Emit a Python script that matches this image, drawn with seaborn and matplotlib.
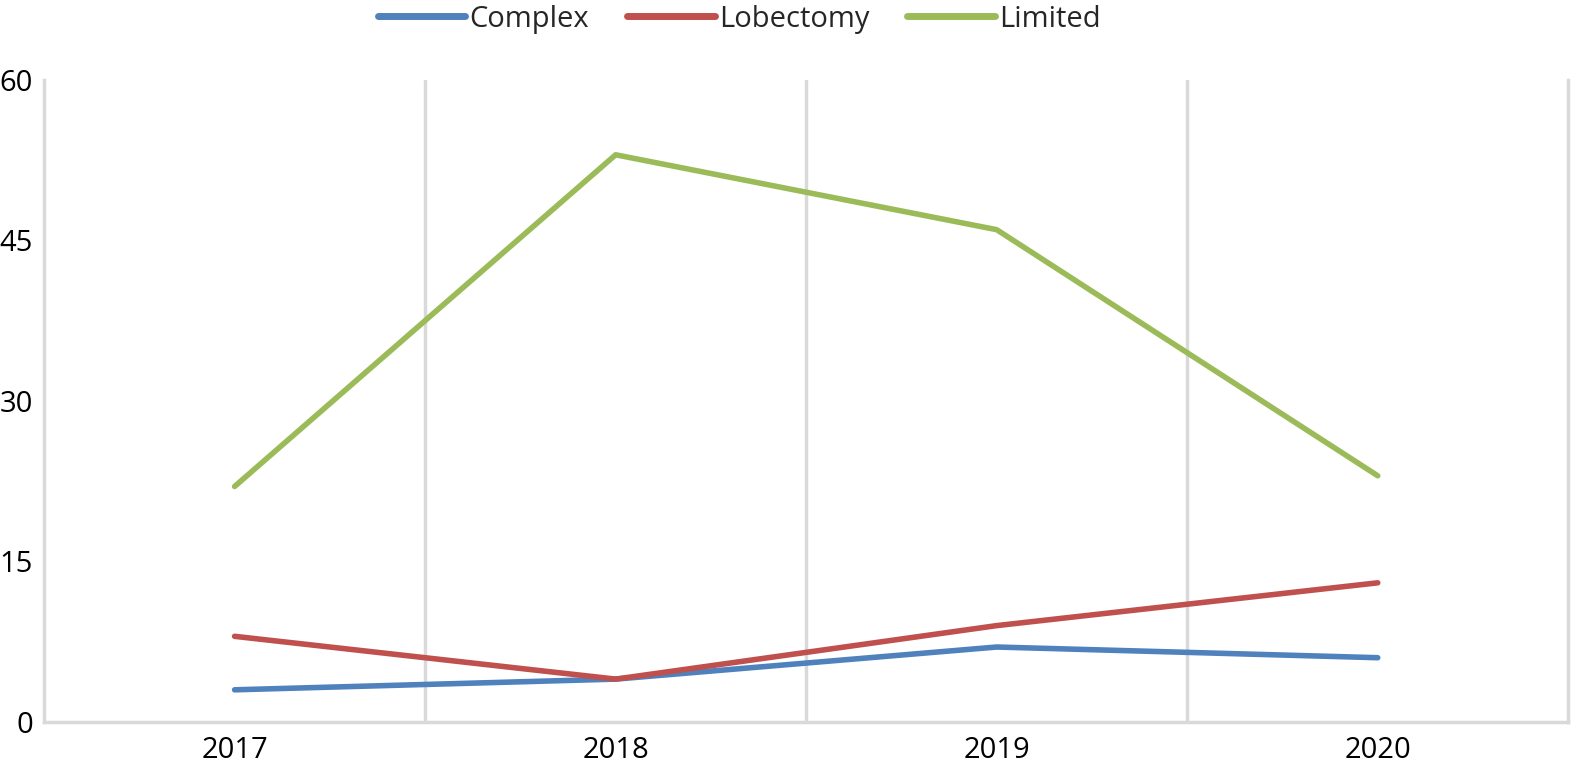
import matplotlib
matplotlib.use("Agg")
import matplotlib.pyplot as plt
import seaborn as sns
import pandas as pd

years = ["2017", "2018", "2019", "2020"]
complex_vals = [3, 4, 7, 6]
lobectomy_vals = [8, 4, 9, 13]
limited_vals = [22, 53, 46, 23]
series_names = ["Complex", "Lobectomy", "Limited"]
colors = ["#4F81BD", "#C0504D", "#9BBB59"]
yticks = [0, 15, 30, 45, 60]

sns.set_theme(style="white")
plt.rcParams["font.family"] = ["Open Sans", "DejaVu Sans"]

df = pd.DataFrame({
    "year": years * 3,
    "value": complex_vals + lobectomy_vals + limited_vals,
    "series": [series_names[0]] * 4 + [series_names[1]] * 4 + [series_names[2]] * 4,
})
df["x"] = df["year"].map({y: i for i, y in enumerate(years)})

fig = plt.figure(figsize=(15.73, 7.68), dpi=100)
ax = fig.add_axes([0.028, 0.06, 0.969, 0.836])

sns.lineplot(data=df, x="x", y="value", hue="series", palette=colors,
             hue_order=series_names, linewidth=4.0, ax=ax, legend=True,
             solid_capstyle="round")

ax.set_xlim(-0.5, len(years) - 0.5)
ax.set_ylim(0, 60)
ax.set_yticks(yticks)
ax.set_xticks(range(len(years)))
ax.set_xticklabels(years)
ax.set_xlabel("")
ax.set_ylabel("")
for xv in [0.5, 1.5, 2.5]:
    ax.axvline(xv, color="#D9D9D9", lw=2.5, zorder=0)
ax.spines["top"].set_visible(False)
for s in ["left", "right", "bottom"]:
    ax.spines[s].set_color("#D9D9D9")
    ax.spines[s].set_linewidth(2.5)
ax.tick_params(axis="both", length=0, labelsize=21, colors="black")
ax.tick_params(axis="y", pad=8)
ax.tick_params(axis="x", pad=10)

handles, labels = ax.get_legend_handles_labels()
ax.get_legend().remove()
for h in handles:
    h.set_linewidth(5)
fig.legend(handles, labels, loc="center", bbox_to_anchor=(0.47, 0.975),
           ncol=3, frameon=False, fontsize=21, handlelength=3.0,
           handletextpad=0.15, columnspacing=1.3)

fig.savefig("out.png", dpi=100)
